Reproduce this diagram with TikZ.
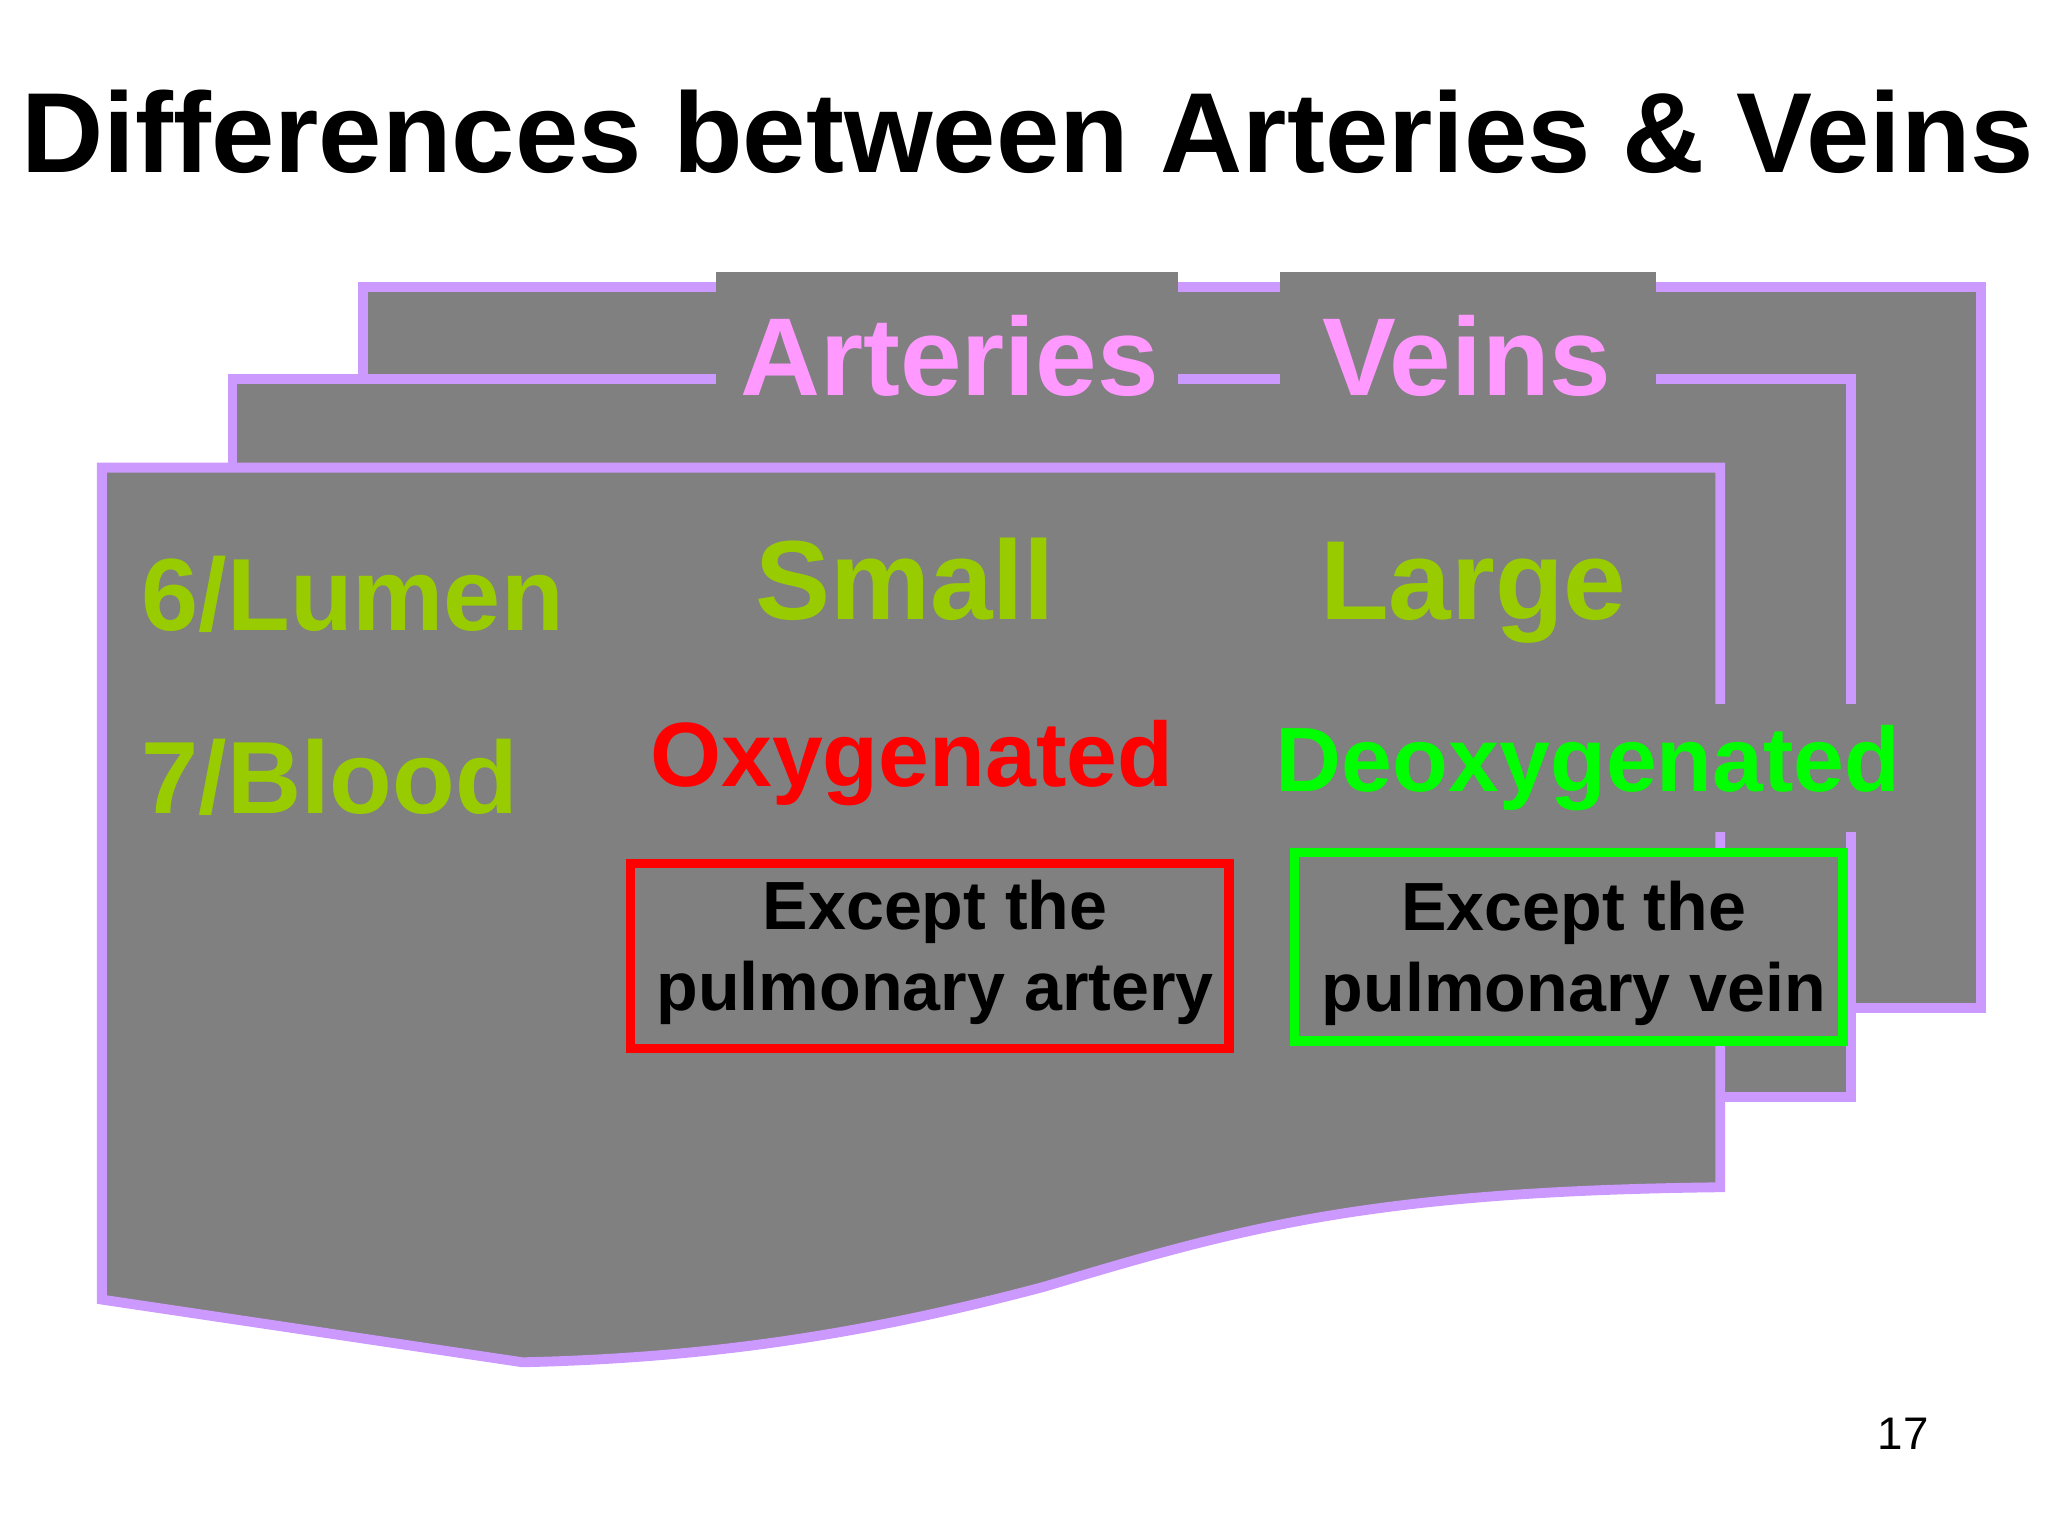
\documentclass[tikz,border=0pt]{standalone}
\usepackage{fontspec}
\setmainfont{Liberation Sans}
\definecolor{doc}{HTML}{808080}
\definecolor{edge}{HTML}{CC99FF}
\definecolor{pinkt}{HTML}{FF99FF}
\definecolor{lime}{HTML}{99CC00}
\begin{document}
\begin{tikzpicture}[x=0.01306cm,y=-0.01306cm,
  page/.style={fill=doc,draw=edge,line width=2.8pt,line join=miter},
  tab/.style={fill=doc,font=\bfseries\fontsize{31.5}{36}\selectfont,text=pinkt,inner sep=0pt},
  big/.style={font=\bfseries\fontsize{#1}{#1}\selectfont,inner sep=0pt},
  boxtext/.style={align=center,font=\bfseries\fontsize{19.4}{24}\selectfont}]
\useasboundingbox (0,0) rectangle (1568,1176);
\node[big=32.4,anchor=base] (title) at (787,132) {Differences between Arteries \& Veins};
% back page
\draw[page] (278,220) -- (1517,220) -- (1517,772) -- (1300,772) -- (1300,500) -- (278,500) -- cycle;
% middle page
\draw[page] (178,290) -- (1417,290) -- (1417,840) -- (1300,840) -- (1300,500) -- (178,500) -- cycle;
% tabs
\fill[doc] (548,208) rectangle (902,300);
\fill[doc] (980,208) rectangle (1268,300);
\node[tab,anchor=base] (art) at (727,303) {Arteries};
\node[tab,anchor=base] (vei) at (1123,303) {Veins};
% front page
\draw[page] (78,358) -- (1317,358) -- (1317,909)
  .. controls (1050,912) and (950,940) .. (800,985)
  .. controls (650,1025) and (530,1040) .. (400,1043)
  -- (78,995) -- cycle;
\node[big=29.2,text=lime,anchor=base west] (lum) at (108,483) {6/Lumen};
\node[big=29.2,text=lime,anchor=base west] (blo) at (108,623) {7/Blood};
\node[big=32,text=lime,anchor=base] (sma) at (693,474) {Small};
\node[big=32,text=lime,anchor=base] (lar) at (1128,474) {Large};
\node[big=26,text=red,anchor=base] (oxy) at (698,602) {Oxygenated};
\node[big=26,text=green,fill=doc,inner ysep=6pt,anchor=base] (deo) at (1216,606) {Deoxygenated};
\draw[red,line width=2.6pt,fill=doc] (483,661) rectangle (941,803);
\node[boxtext] (ea) at (716,729) {Except the\\[-1pt]pulmonary artery};
\draw[green,line width=2.6pt,fill=doc] (991,653) rectangle (1411,797);
\node[boxtext] (ev) at (1205,730) {Except the\\[-1pt]pulmonary vein};
\node[font=\fontsize{13}{15}\selectfont] (pg) at (1457,1098) {17};
\end{tikzpicture}
\end{document}
